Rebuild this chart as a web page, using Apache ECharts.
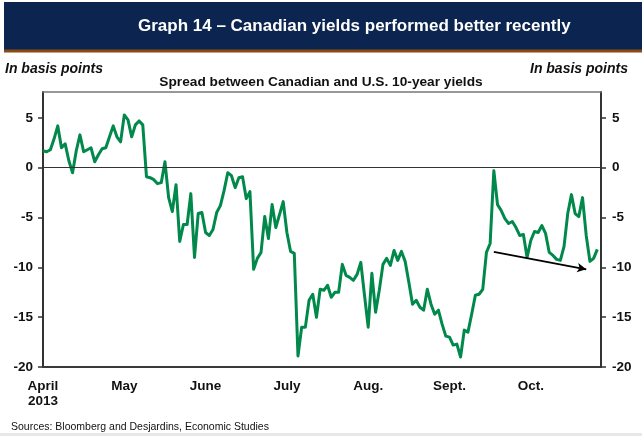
<!DOCTYPE html>
<html>
<head>
<meta charset="utf-8">
<script src="https://cdn.jsdelivr.net/npm/echarts@6/dist/echarts.min.js"></script>
<style>
  html, body { margin: 0; padding: 0; background: #fff; }
  #chart { width: 642px; height: 436px; }
</style>
</head>
<body>
<div id="chart"></div>
<script>
// Daily spread, Canada 10-year minus U.S. 10-year, in basis points (April 1 to late October 2013)
const spread = [
  1.7, 1.6, 1.8, 2.9, 4.2, 2.0, 2.4, 0.7, -0.5, 1.7,
  3.3, 1.6, 1.8, 2.0, 0.6, 1.3, 1.9, 2.0, 3.1, 4.2,
  3.1, 2.6, 5.3, 4.8, 3.1, 4.3, 4.7, 4.3, -0.9, -1.0,
  -1.2, -1.6, -1.5, 0.6, -3.0, -4.4, -1.7, -7.4, -5.7, -5.7,
  -2.6, -9.0, -4.6, -4.5, -6.5, -6.8, -6.2, -4.5, -3.8, -2.3,
  -0.5, -0.8, -2.0, -1.0, -0.9, -3.1, -2.4, -10.2, -9.1, -8.5,
  -4.9, -7.1, -3.7, -6.0, -4.7, -3.4, -6.5, -8.4, -8.6, -18.9,
  -16.0, -16.0, -13.3, -12.7, -15.0, -12.2, -12.3, -11.8, -13.0, -12.5,
  -12.5, -9.7, -10.8, -11.0, -11.3, -10.7, -9.5, -12.8, -16.0, -10.6,
  -14.5, -12.3, -9.7, -9.1, -9.8, -8.3, -9.3, -8.4, -9.4, -11.5,
  -13.7, -13.3, -14.0, -14.3, -12.2, -13.7, -14.7, -14.3, -15.7, -16.9,
  -17.0, -17.8, -17.7, -19.0, -16.3, -16.5, -14.7, -12.8, -12.7, -12.2,
  -8.5, -7.6, -0.3, -3.7, -4.3, -5.1, -5.6, -5.4, -6.0, -6.8,
  -6.7, -9.0, -7.3, -6.4, -6.5, -5.8, -6.6, -8.5, -8.8, -9.2,
  -9.3, -7.9, -4.6, -2.7, -4.6, -4.9, -3.0, -6.8, -9.4, -9.1,
  -8.2
];

// Month labels, one every 22 trading days
const monthLabels = ['April\n2013', 'May', 'June', 'July', 'Aug.', 'Sept.', 'Oct.'];
const labelStep = 22;

// Y axis ticks
const yTicks = [-20, -15, -10, -5, 0, 5];
const yMin = -20;
const yMax = 7.6;

// Downward trend arrow across the October readings: [day index, bp]
const trendStart = [122, -8.45];
const trendEnd = [147, -10.2];

// One spare slot after the last reading leaves a small gap before the right axis
const days = [];
for (let i = 0; i <= spread.length; i++) days.push(String(i));

const FONT = '"Liberation Sans", Arial, Helvetica, sans-serif';
const GREEN = '#00894b';

const chart = echarts.init(document.getElementById('chart'), null, { renderer: 'canvas' });

const monthAt = (idx) => {
  const i = Number(idx);
  if (i % labelStep !== 0) return '';
  return monthLabels[i / labelStep] || '';
};

const yLabelCommon = {
  fontFamily: FONT,
  fontSize: 13.5,
  fontWeight: 'bold',
  color: '#111',
  customValues: yTicks
};

chart.setOption({
  animation: false,
  backgroundColor: '#fff',
  graphic: [
    { type: 'rect', shape: { x: 4, y: 2, width: 640, height: 48 }, style: { fill: '#0b2450' }, z: 0 },
    { type: 'rect', shape: { x: 4, y: 49.5, width: 640, height: 3 }, style: { fill: '#8a4a12' }, z: 0 },
    { type: 'rect', shape: { x: 0, y: 433, width: 642, height: 3 }, style: { fill: '#e8e8e8' }, z: 0 }
  ],
  title: [
    {
      text: 'Graph 14 \u2013 Canadian yields performed better recently',
      left: 138, top: 18, padding: 0,
      textStyle: { color: '#fff', fontFamily: FONT, fontSize: 17, fontWeight: 'bold' }
    },
    {
      text: 'In basis points',
      left: 5, top: 62, padding: 0,
      textStyle: { color: '#111', fontFamily: FONT, fontSize: 14, fontWeight: 'bold', fontStyle: 'italic' }
    },
    {
      text: 'In basis points',
      right: 14, top: 62, padding: 0,
      textStyle: { color: '#111', fontFamily: FONT, fontSize: 14, fontWeight: 'bold', fontStyle: 'italic' }
    },
    {
      text: 'Spread between Canadian and U.S. 10-year yields',
      left: 'center', top: 75, padding: 0,
      textStyle: { color: '#111', fontFamily: FONT, fontSize: 13.7, fontWeight: 'bold' }
    },
    {
      text: 'Sources: Bloomberg and Desjardins, Economic Studies',
      left: 11, top: 422, padding: 0,
      textStyle: { color: '#111', fontFamily: FONT, fontSize: 10.5, fontWeight: 'normal' }
    }
  ],
  grid: { left: 43, right: 41, top: 92, bottom: 69, containLabel: false },
  xAxis: [
    {
      type: 'category',
      data: days,
      boundaryGap: false,
      axisLine: { show: true, onZero: false, lineStyle: { color: '#3a3a3a', width: 2 } },
      axisTick: { show: false },
      splitLine: { show: false },
      axisLabel: {
        interval: 0,
        formatter: (v) => monthAt(v),
        fontFamily: FONT, fontSize: 13.5, fontWeight: 'bold', color: '#111',
        margin: 12, lineHeight: 15
      }
    },
    {
      type: 'category',
      data: days,
      position: 'top',
      boundaryGap: false,
      axisLine: { show: true, onZero: false, lineStyle: { color: '#777', width: 1.5 } },
      axisTick: { show: false },
      axisLabel: { show: false },
      splitLine: { show: false }
    }
  ],
  yAxis: [
    {
      type: 'value', min: yMin, max: yMax, interval: 5, position: 'left',
      axisLine: { show: true, onZero: false, lineStyle: { color: '#333', width: 2 } },
      axisTick: { show: true, inside: false, length: 5, customValues: yTicks, lineStyle: { color: '#333', width: 1.5 } },
      splitLine: { show: false },
      axisLabel: Object.assign({ margin: 10 }, yLabelCommon)
    },
    {
      type: 'value', min: yMin, max: yMax, interval: 5, position: 'right',
      axisLine: { show: true, onZero: false, lineStyle: { color: '#333', width: 2 } },
      axisTick: { show: true, inside: false, length: 5, customValues: yTicks, lineStyle: { color: '#333', width: 1.5 } },
      splitLine: { show: false },
      axisLabel: Object.assign({ margin: 11 }, yLabelCommon)
    }
  ],
  series: [
    {
      type: 'line',
      name: 'Spread',
      data: spread,
      xAxisIndex: 0,
      yAxisIndex: 0,
      showSymbol: false,
      symbol: 'none',
      lineStyle: { color: GREEN, width: 3, join: 'round' },
      z: 3,
      markLine: {
        silent: true,
        animation: false,
        label: { show: false },
        data: [
          [
            { yAxis: 0, x: 43, symbol: 'none' },
            { yAxis: 0, x: 601, symbol: 'none' }
          ],
          [
            { coord: [String(trendStart[0]), trendStart[1]], symbol: 'none', lineStyle: { color: '#000', width: 1.8, type: 'solid' } },
            { coord: [String(trendEnd[0]), trendEnd[1]], symbol: 'arrow', symbolSize: [7, 9], lineStyle: { color: '#000', width: 1.8, type: 'solid' } }
          ]
        ],
        lineStyle: { color: '#333', width: 1, type: 'solid' },
        symbol: ['none', 'none']
      }
    }
  ]
});
</script>
</body>
</html>
